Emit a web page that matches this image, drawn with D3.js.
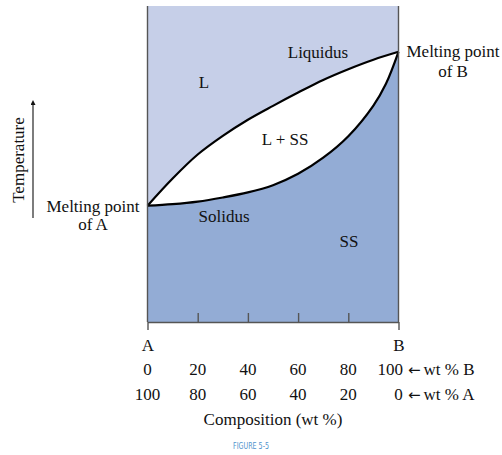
<!DOCTYPE html>
<html>
<head>
<meta charset="utf-8">
<script src="https://cdn.jsdelivr.net/npm/d3@7"></script>
<style>
  body { margin: 0; background: #fff; }
  svg text { font-family: "Liberation Serif", "Times New Roman", serif; font-size: 17px; fill: #111; }
</style>
</head>
<body>
<div class="chart"></div>
<script>
// composition (wt % B) and relative temperature
const liquidusComp = [0, 10, 20, 30, 40, 50, 60, 70, 80, 90, 100];
const liquidusTemp = [36.8, 45.4, 53.0, 58.9, 64.0, 68.4, 72.6, 76.6, 80.0, 83.0, 85.5];
const solidusComp = [0, 10, 20, 30, 40, 50, 60, 70, 80, 90, 95, 100];
const solidusTemp = [36.8, 37.3, 38.1, 39.4, 41.0, 43.3, 46.9, 52.0, 58.8, 68.5, 75.4, 85.5];
const innerTicks = [20, 40, 60, 80];
const wtB = ['0', '20', '40', '60', '80', '100'];
const wtA = ['100', '80', '60', '40', '20', '0'];
const wtPos = [0, 20, 40, 60, 80, 100];

const width = 502;
const height = 455;
const plot = { left: 147.5, right: 398.5, top: 6, bottom: 322 };
const serif = '"Liberation Serif", "Times New Roman", serif';

const svg = d3
  .select('.chart')
  .append('svg')
  .attr('width', width)
  .attr('height', height);

const x = d3.scaleLinear().domain([0, 100]).range([plot.left, plot.right]);
const y = d3.scaleLinear().domain([0, 100]).range([plot.bottom, plot.top]);

const liquidus = liquidusComp.map((c, i) => [c, liquidusTemp[i]]);
const solidus = solidusComp.map((c, i) => [c, solidusTemp[i]]);

// liquid region
svg
  .append('rect')
  .attr('x', x(0))
  .attr('y', y(100))
  .attr('width', x(100) - x(0))
  .attr('height', y(0) - y(100))
  .style('fill', '#c6cfe8');

const curve = d3.curveCatmullRom.alpha(0.5);

const area = d3
  .area()
  .x((d) => x(d[0]))
  .y0(y(0))
  .y1((d) => y(d[1]))
  .curve(curve);

// two phase region
svg.append('path').datum(liquidus).attr('d', area).style('fill', '#fff');
// solid solution region
svg.append('path').datum(solidus).attr('d', area).style('fill', '#93acd5');

const line = d3
  .line()
  .x((d) => x(d[0]))
  .y((d) => y(d[1]))
  .curve(curve);

svg
  .selectAll('.curve')
  .data([liquidus, solidus])
  .enter()
  .append('path')
  .attr('class', 'curve')
  .attr('d', line)
  .style('fill', 'none')
  .style('stroke', '#000')
  .style('stroke-width', 2.2);

// side edges
svg
  .selectAll('.edge')
  .data([0, 100])
  .enter()
  .append('line')
  .attr('class', 'edge')
  .attr('x1', (d) => x(d))
  .attr('x2', (d) => x(d))
  .attr('y1', y(100))
  .attr('y2', y(0))
  .style('stroke', '#555')
  .style('stroke-width', 1.4);

// inner ticks
svg
  .append('g')
  .attr('class', 'axis axis-inner')
  .attr('transform', `translate(0, ${plot.bottom})`)
  .call(
    d3.axisBottom(x).tickValues(innerTicks).tickSizeInner(-9).tickSizeOuter(0).tickFormat('')
  );

// A / B end ticks
const axisEnds = svg
  .append('g')
  .attr('class', 'axis axis-ends')
  .attr('transform', `translate(0, ${plot.bottom})`)
  .call(
    d3
      .axisBottom(x)
      .tickValues([0, 100])
      .tickSizeInner(8)
      .tickSizeOuter(0)
      .tickPadding(9)
      .tickFormat((d) => (d === 0 ? 'A' : 'B'))
  );

svg.selectAll('.axis .domain').style('stroke', '#555').style('stroke-width', 1.4);
svg.selectAll('.axis line').style('stroke', '#555').style('stroke-width', 1.4);
svg.selectAll('.axis').attr('font-family', serif).attr('font-size', 17);
svg.selectAll('.axis text').style('fill', '#111');
axisEnds.select('.domain').remove();

// composition rows
svg
  .selectAll('.rowB')
  .data(wtB)
  .enter()
  .append('text')
  .attr('class', 'rowB')
  .attr('x', (d, i) => (i === wtB.length - 1 ? x(wtPos[i]) + 4.5 : x(wtPos[i])))
  .attr('y', 375)
  .attr('text-anchor', (d, i) => (i === wtB.length - 1 ? 'end' : 'middle'))
  .text((d) => d);

svg
  .selectAll('.rowA')
  .data(wtA)
  .enter()
  .append('text')
  .attr('class', 'rowA')
  .attr('x', (d, i) => x(wtPos[i]))
  .attr('y', 400)
  .attr('text-anchor', 'middle')
  .text((d) => d);

['B', 'A'].forEach((el, i) => {
  const t = svg.append('text').attr('x', 408).attr('y', 375 + i * 25);
  t.append('tspan')
    .style('font-family', '"DejaVu Sans", sans-serif')
    .style('font-size', '15px')
    .text('\u2190');
  t.append('tspan').attr('dx', 3).text(`wt % ${el}`);
});

svg
  .append('text')
  .attr('x', 273)
  .attr('y', 425)
  .attr('text-anchor', 'middle')
  .text('Composition (wt %)');

// region labels
const labels = [
  { t: 'Liquidus', x: 318, y: 58 },
  { t: 'L', x: 204, y: 88 },
  { t: 'L + SS', x: 285, y: 145 },
  { t: 'Solidus', x: 224, y: 222 },
  { t: 'SS', x: 349, y: 247 },
  { t: 'Melting point', x: 93, y: 212 },
  { t: 'of A', x: 93, y: 230 },
  { t: 'Melting point', x: 453, y: 57 },
  { t: 'of B', x: 453, y: 77 },
];
svg
  .selectAll('.lbl')
  .data(labels)
  .enter()
  .append('text')
  .attr('class', 'lbl')
  .attr('x', (d) => d.x)
  .attr('y', (d) => d.y)
  .attr('text-anchor', 'middle')
  .text((d) => d.t);

// temperature axis title with arrow
svg
  .append('defs')
  .append('marker')
  .attr('id', 'arrow')
  .attr('viewBox', '0 0 10 10')
  .attr('refX', 5)
  .attr('refY', 10)
  .attr('markerWidth', 5)
  .attr('markerHeight', 7)
  .attr('orient', '0')
  .attr('markerUnits', 'userSpaceOnUse')
  .append('path')
  .attr('d', 'M0,10 L5,0 L10,10 Z')
  .style('fill', '#111');

svg
  .append('line')
  .attr('x1', 33)
  .attr('x2', 33)
  .attr('y1', 218)
  .attr('y2', 105)
  .style('stroke', '#111')
  .style('stroke-width', 1.1)
  .attr('marker-end', 'url(#arrow)');

svg
  .append('text')
  .attr('transform', 'translate(24, 160) rotate(-90)')
  .attr('text-anchor', 'middle')
  .text('Temperature');

svg
  .append('text')
  .attr('x', 251)
  .attr('y', 449)
  .attr('text-anchor', 'middle')
  .attr('textLength', 36)
  .attr('lengthAdjust', 'spacingAndGlyphs')
  .style('font-family', '"DejaVu Sans Condensed", "DejaVu Sans", sans-serif')
  .style('font-size', '9px')
  .style('fill', '#4f93cc')
  .text('FIGURE 5-5');
</script>
</body>
</html>
